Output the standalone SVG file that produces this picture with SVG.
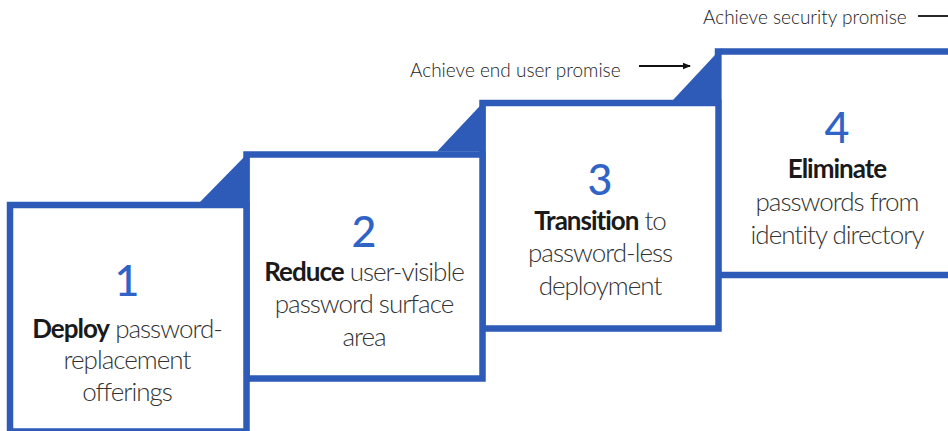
<svg xmlns="http://www.w3.org/2000/svg" width="948" height="431" viewBox="0 0 948 431">
<style>
.box{fill:#fff;stroke:#2E5BB8;stroke-width:6.5}
.tri{fill:#2E5BB8}
.num{font-family:Lato,"Open Sans",sans-serif;font-size:43px;font-weight:500;fill:#2F63C6;text-anchor:middle}
.txt{font-family:Lato,"Open Sans",sans-serif;font-size:26px;font-weight:300;letter-spacing:-1px;fill:#333;text-anchor:middle}
.txt tspan.b{font-weight:700;fill:#1a1a1a}
.lbl{font-family:Lato,"Open Sans",sans-serif;font-size:19px;font-weight:300;fill:#222}
.ln{stroke:#111;stroke-width:1.8;fill:none}
</style>
<defs>
<marker id="ah" markerWidth="8" markerHeight="8" refX="7" refY="4" orient="auto" markerUnits="userSpaceOnUse">
<path d="M0,0.8 L8,4 L0,7.2 Z" fill="#111"/>
</marker>
</defs>
<g id="step4">
<rect class="box" x="718" y="51.5" width="260" height="223.5"/>
<text class="num" x="837" y="143">4</text>
<text class="txt" x="837" y="178"><tspan class="b">Eliminate</tspan></text>
<text class="txt" x="837" y="211">passwords from</text>
<text class="txt" x="837" y="244">identity directory</text>
</g>
<g id="step3">
<polygon class="tri" points="673,100 721.5,48 721.5,100"/>
<rect class="box" x="482.5" y="103" width="236" height="225.5"/>
<text class="num" x="600" y="195">3</text>
<text class="txt" x="600" y="230"><tspan class="b">Transition</tspan> to</text>
<text class="txt" x="600" y="262">password-less</text>
<text class="txt" x="600" y="295">deployment</text>
</g>
<g id="step2">
<polygon class="tri" points="437,151.5 485.5,100 485.5,151.5"/>
<rect class="box" x="246.5" y="154.5" width="236" height="224"/>
<text class="num" x="364" y="247">2</text>
<text class="txt" x="364" y="281"><tspan class="b">Reduce</tspan> user-visible</text>
<text class="txt" x="364" y="313">password surface</text>
<text class="txt" x="364" y="346">area</text>
</g>
<g id="step1">
<polygon class="tri" points="200,202 249.5,151.5 249.5,202"/>
<rect class="box" x="10" y="205" width="236.5" height="226.5"/>
<text class="num" x="127" y="296">1</text>
<text class="txt" x="127" y="338"><tspan class="b">Deploy</tspan> password-</text>
<text class="txt" x="127" y="369">replacement</text>
<text class="txt" x="127" y="401">offerings</text>
</g>
<g id="connectors">
<text class="lbl" x="410" y="77">Achieve end  user promise</text>
<line class="ln" x1="639" y1="66" x2="690" y2="66" marker-end="url(#ah)"/>
<text class="lbl" x="703" y="24">Achieve security promise</text>
<line class="ln" x1="918" y1="16" x2="948" y2="16"/>
</g>
</svg>
